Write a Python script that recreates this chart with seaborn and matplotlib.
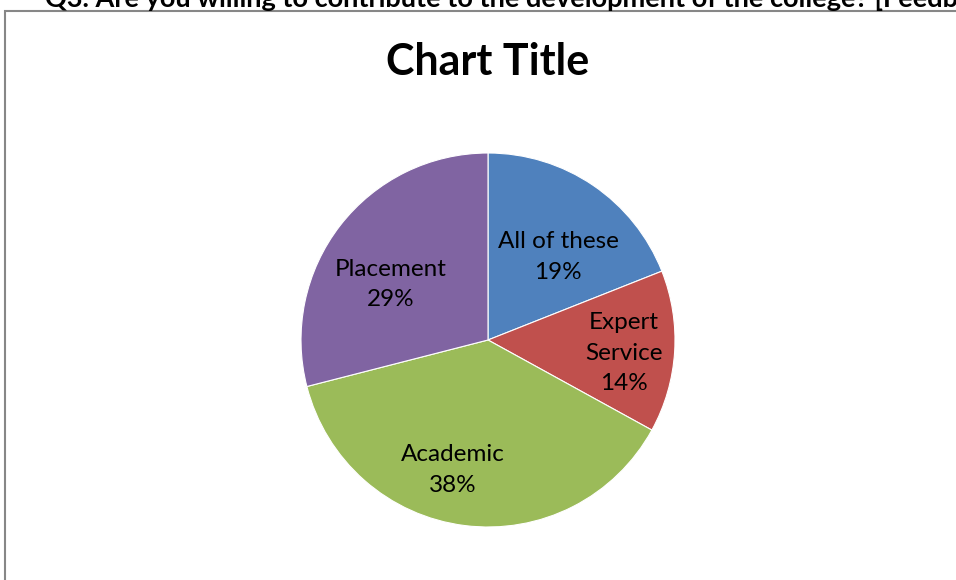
import numpy as np
import matplotlib
matplotlib.use("Agg")
import matplotlib.pyplot as plt
from matplotlib.patches import Rectangle
import seaborn as sns

categories = ["All of these", "Expert\nService", "Academic", "Placement"]
values = [19, 14, 38, 29]
colors = ["#4F81BD", "#C0504D", "#9BBB59", "#8064A2"]
question = "Q3. Are you willing to contribute to the development of the college? [Feedback]"
title = "Chart Title"

sns.set_theme(style="white")
plt.rcParams["font.family"] = ["Lato", "DejaVu Sans"]

W, H = 956, 580
fig = plt.figure(figsize=(W / 100, H / 100), dpi=100)

# question text, cut by the top edge as in the source screenshot
fig.text(45 / W, 1 - 7 / H, question, fontsize=19.5, fontweight="bold",
         ha="left", va="baseline", color="black")

# chart area border
fig.patches.append(Rectangle((5 / W, -0.1), 1.2, (H - 11) / H + 0.1,
                             transform=fig.transFigure, fill=False,
                             edgecolor="#878787", linewidth=1.5))

fig.text(488 / W, 1 - 62 / H, title, fontsize=31, fontweight="bold",
         ha="center", va="center", color="black")

cx, cy, r = 488, 340, 187
ax = fig.add_axes([(cx - r) / W, (H - cy - r) / H, 2 * r / W, 2 * r / H])
wedges, _ = ax.pie(values, colors=sns.color_palette(colors), startangle=90,
                   counterclock=False, radius=1,
                   wedgeprops=dict(edgecolor="white", linewidth=0.8))
ax.set_xlim(-1, 1)
ax.set_ylim(-1, 1)
ax.set_aspect("equal")
ax.axis("off")

# label placement (Excel-like, slightly off the mid angle)
dists = [0.58, 0.73, 0.72, 0.6]
nudges = [-6, -2, -8, 8]
total = sum(values)
for w, cat, v, d, n in zip(wedges, categories, values, dists, nudges):
    mid = np.deg2rad((w.theta1 + w.theta2) / 2 + n)
    ax.text(d * np.cos(mid), d * np.sin(mid), f"{cat}\n{round(100 * v / total)}%",
            ha="center", va="center", fontsize=17.5, linespacing=1.55,
            color="black")

fig.savefig("out.png", dpi=100)
